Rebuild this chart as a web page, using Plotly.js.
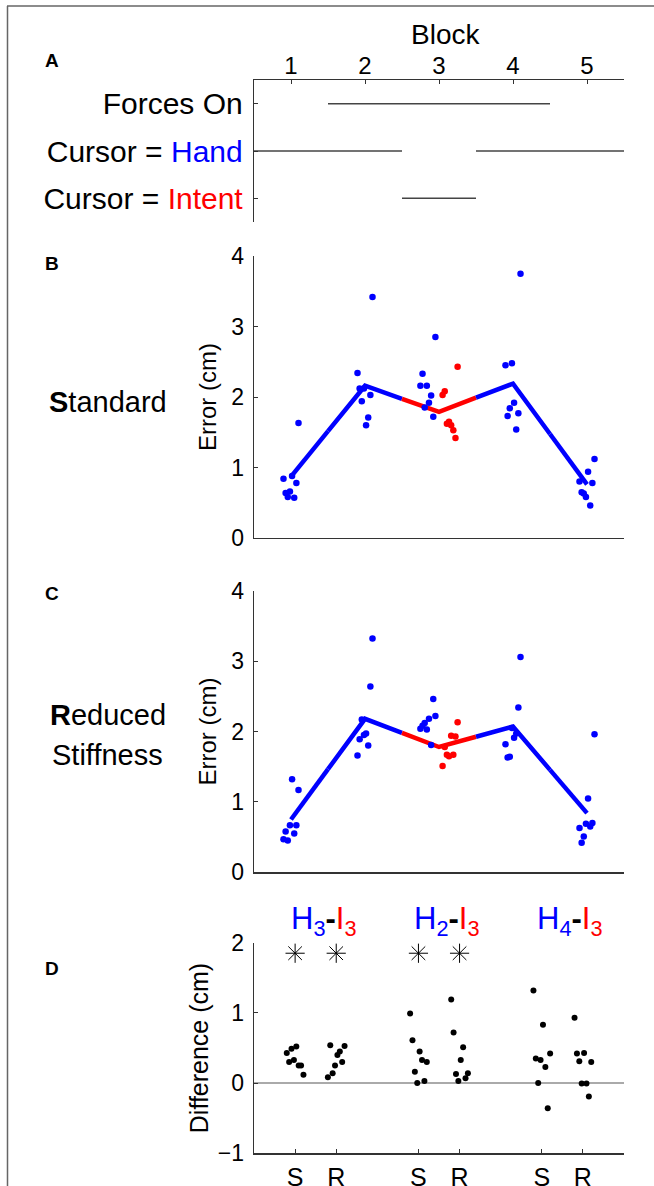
<!DOCTYPE html>
<html>
<head>
<meta charset="utf-8">
<script src="https://cdn.plot.ly/plotly-3.0.1.min.js"></script>
<style>
html,body{margin:0;padding:0;background:#fff;}
#chart{width:654px;height:1186px;}
</style>
</head>
<body>
<div id="chart"></div>
<script>
// ---------------- DATA ----------------
const blocks = [1, 2, 3, 4, 5];
const blockTickLabels = ['1', '2', '3', '4', '5'];
const forcesOn = [false, true, true, true, false];
const cursorMode = ['Hand', 'Hand', 'Intent', 'Hand', 'Hand'];
const conditionRows = ['Forces On', 'Cursor = Hand', 'Cursor = Intent'];

// Standard: hand-error per subject for each block
const stdHandErr = [
  [0.84, 0.64, 0.58, 0.66, 0.88, 0.57, 0.78, 1.63],
  [2.34, 2.12, 1.94, 2.12, 1.60, 1.71, 2.03, 3.42],
  [2.16, 2.33, 1.85, 2.16, 1.92, 2.02, 1.72, 2.85],
  [2.45, 1.73, 1.84, 2.48, 1.92, 1.54, 1.77, 3.75],
  [0.80, 0.65, 0.63, 0.58, 0.94, 0.46, 0.78, 1.12]
];
const stdIntentErr3 = [2.03, 2.08, 1.62, 1.65, 1.60, 1.53, 1.42, 2.43];
const stdMean = [0.87, 2.16, 1.79, 2.19, 0.76];

// Reduced stiffness
const redHandErr = [
  [0.47, 0.58, 0.45, 0.67, 1.32, 0.55, 0.67, 1.17],
  [1.66, 1.89, 2.17, 1.95, 1.97, 1.80, 2.64, 3.32],
  [2.04, 2.08, 2.12, 2.03, 2.18, 1.81, 2.46, 2.22],
  [1.82, 1.63, 1.64, 2.05, 1.91, 1.97, 2.34, 3.06],
  [0.63, 0.42, 0.51, 0.69, 1.05, 0.65, 0.70, 1.96]
];
const redIntentErr3 = [1.51, 1.78, 1.67, 1.65, 1.94, 1.67, 1.93, 2.13];
const redMean = [0.75, 2.18, 1.78, 2.07, 0.84];

// Differences (cm)
const diffLabels = ['S', 'R', 'S', 'R', 'S', 'R'];
const diffHandBlock = [3, 2, 4];
const diffIntentBlock = [3, 3, 3];
const diffValues = [
  [0.43, 0.30, 0.49, 0.33, 0.52, 0.25, 0.25, 0.12],
  [0.085, 0.54, 0.14, 0.25, 0.40, 0.45, 0.30, 0.53],
  [0.99, 0.61, 0.16, 0.00, 0.45, 0.33, 0.03, 0.30],
  [1.19, 0.72, 0.13, 0.03, 0.33, 0.51, 0.07, 0.14],
  [1.32, 0.35, 0.00, 0.33, 0.83, 0.23, -0.36, 0.42],
  [0.93, 0.42, 0.31, -0.005, 0.43, -0.005, -0.19, 0.30]
];
const diffSignificant = [true, true, true, true, false, false];
const sigLevel = 1.85;

// ---------------- LAYOUT HELPERS ----------------
const W = 654, H = 1186;
const px = v => v / W;
const py = v => 1 - v / H;
const BLUE = '#0000ff', RED = '#ff0000';
const FONT = 'Liberation Sans, Arial, Helvetica, sans-serif';
const AX = '#333';

const traces = [];

// Panel A: condition schedule lines
function scheduleTrace(activeArr, row) {
  const xs = [], ys = [];
  activeArr.forEach((on, i) => {
    if (on) {
      xs.push(blocks[i] - 0.5, blocks[i] + 0.5); ys.push(row, row);
      if (!activeArr[i + 1]) { xs.push(null); ys.push(null); }
    }
  });
  return {x: xs, y: ys, xaxis: 'x', yaxis: 'y', mode: 'lines', type: 'scatter',
          line: {color: '#444', width: 1.5}, hoverinfo: 'skip', showlegend: false};
}
traces.push(scheduleTrace(forcesOn, 1));
traces.push(scheduleTrace(cursorMode.map(m => m === 'Hand'), 2));
traces.push(scheduleTrace(cursorMode.map(m => m === 'Intent'), 3));

// Panels B, C
function errorPanel(handErr, intent3, mean, xa, ya) {
  const jit = i => (i - 3.5) * 0.029;
  const hx = [], hy = [];
  handErr.forEach((vals, b) => {
    const centre = cursorMode[b] === 'Intent' ? blocks[b] - 0.15 : blocks[b];
    vals.forEach((v, i) => { hx.push(centre + jit(i)); hy.push(v); });
  });
  const ix = [], iy = [];
  const bI = cursorMode.indexOf('Intent');
  intent3.forEach((v, i) => { ix.push(blocks[bI] + 0.15 + jit(i)); iy.push(v); });

  // mean line, coloured by cursor mode (colour switches at block boundaries)
  const yAt = x => {
    const k = Math.min(Math.max(Math.floor(x) - 1, 0), blocks.length - 2);
    const t = x - blocks[k];
    return mean[k] + (mean[k + 1] - mean[k]) * t;
  };
  for (let b = 0; b < blocks.length; b++) {
    const col = cursorMode[b] === 'Intent' ? RED : BLUE;
    const x0 = b === 0 ? blocks[b] : blocks[b] - 0.5;
    const x1 = b === blocks.length - 1 ? blocks[b] : blocks[b] + 0.5;
    const xs = [x0];
    if (blocks[b] > x0) xs.push(blocks[b]);
    if (x1 > blocks[b]) xs.push(x1);
    traces.push({x: xs, y: xs.map(x => (x === blocks[b] ? mean[b] : yAt(x))), xaxis: xa, yaxis: ya,
      type: 'scatter', mode: 'lines', line: {color: col, width: 4.5}, hoverinfo: 'skip', showlegend: false});
  }
  traces.push({x: hx, y: hy, xaxis: xa, yaxis: ya, type: 'scatter', mode: 'markers',
    marker: {color: BLUE, size: 6.5}, showlegend: false, cliponaxis: false});
  traces.push({x: ix, y: iy, xaxis: xa, yaxis: ya, type: 'scatter', mode: 'markers',
    marker: {color: RED, size: 6.5}, showlegend: false, cliponaxis: false});
}
errorPanel(stdHandErr, stdIntentErr3, stdMean, 'x2', 'y2');
errorPanel(redHandErr, redIntentErr3, redMean, 'x3', 'y3');

// Panel D
const diffPos = [1, 2, 4, 5, 7, 8];
const dx = [], dy = [];
diffValues.forEach((vals, g) => vals.forEach((v, i) => { dx.push(diffPos[g] + (i - 3.5) * 0.058); dy.push(v); }));
traces.push({x: dx, y: dy, xaxis: 'x4', yaxis: 'y4', type: 'scatter', mode: 'markers',
  marker: {color: '#000', size: 6}, showlegend: false, cliponaxis: false});
const sx = [], sy = [];
diffSignificant.forEach((s, g) => { if (s) { sx.push(diffPos[g]); sy.push(sigLevel); } });
traces.push({x: sx, y: sy, xaxis: 'x4', yaxis: 'y4', type: 'scatter', mode: 'markers',
  marker: {symbol: 'asterisk-open', size: 16, color: '#000', line: {color: '#000', width: 1}},
  showlegend: false, cliponaxis: false});

// ---------------- AXES ----------------
const xDom = [px(254), px(624)];
const tickFont = {family: FONT, size: 23, color: '#000'};
const baseX = {domain: xDom, range: [0.5, 5.5], showgrid: false, zeroline: false,
  showline: true, linecolor: AX, linewidth: 1.3, fixedrange: true};
const errY = (dom) => ({domain: dom, range: [0, 4], tickvals: [0, 1, 2, 3, 4], ticks: 'inside', ticklen: 4,
  tickcolor: AX, showline: true, linecolor: AX, linewidth: 1.3, showgrid: false, zeroline: false,
  tickfont: tickFont, ticklabelstandoff: 4,
  title: {text: 'Error (cm)', font: {family: FONT, size: 24, color: '#000'}, standoff: 8}});

const layout = {
  width: W, height: H, margin: {l: 0, r: 0, t: 0, b: 0},
  paper_bgcolor: '#fff', plot_bgcolor: 'rgba(0,0,0,0)', showlegend: false,
  font: {family: FONT, color: '#000'},
  xaxis: Object.assign({}, baseX, {anchor: 'y', side: 'top', tickvals: blocks, ticktext: blockTickLabels,
    ticks: 'inside', ticklen: 4, tickcolor: AX, tickfont: {family: FONT, size: 24, color: '#000'}, ticklabelstandoff: -5}),
  yaxis: {domain: [py(222), py(80)], range: [3.5, 0.5], anchor: 'x', tickvals: [1, 2, 3],
    ticktext: [conditionRows[0],
      'Cursor = <span style="color:' + BLUE + '">' + conditionRows[1].split('= ')[1] + '</span>',
      'Cursor = <span style="color:' + RED + '">' + conditionRows[2].split('= ')[1] + '</span>'],
    ticks: 'inside', ticklen: 4, tickcolor: AX, showline: true, linecolor: AX, linewidth: 1.3,
    showgrid: false, zeroline: false, tickfont: {family: FONT, size: 30, color: '#000'}, ticklabelstandoff: 4,
    fixedrange: true},
  xaxis2: Object.assign({}, baseX, {anchor: 'y2', ticks: '', showticklabels: false}),
  yaxis2: Object.assign(errY([py(538), py(256)]), {anchor: 'x2'}),
  xaxis3: Object.assign({}, baseX, {anchor: 'y3', ticks: '', showticklabels: false}),
  yaxis3: Object.assign(errY([py(872.3), py(590.7)]), {anchor: 'x3'}),
  xaxis4: {domain: xDom, range: [0, 9], anchor: 'y4', tickvals: diffPos, ticktext: diffLabels,
    ticks: 'inside', ticklen: 4, tickcolor: AX, showline: true, linecolor: AX, linewidth: 1.3,
    showgrid: false, zeroline: false, tickfont: {family: FONT, size: 25, color: '#000'}, ticklabelstandoff: 1},
  yaxis4: {domain: [py(1153.3), py(942.7)], range: [-1, 2], anchor: 'x4', tickvals: [-1, 0, 1, 2],
    ticks: 'inside', ticklen: 4, tickcolor: AX, showline: true, linecolor: AX, linewidth: 1.3,
    showgrid: false, zeroline: true, zerolinecolor: '#aaa', zerolinewidth: 1.5,
    tickfont: tickFont, ticklabelstandoff: 4,
    title: {text: 'Difference (cm)', font: {family: FONT, size: 25, color: '#000'}, standoff: 2}},
  shapes: [
    {type: 'line', xref: 'paper', yref: 'paper', x0: px(7), x1: 1.01, y0: py(6), y1: py(6), line: {color: '#666', width: 1.5}},
    {type: 'line', xref: 'paper', yref: 'paper', x0: px(7.5), x1: px(7.5), y0: py(6), y1: -0.01, line: {color: '#666', width: 1.5}}
  ],
  annotations: []
};

const ann = layout.annotations;
const letter = (t, y) => ann.push({text: '<b>' + t + '</b>', xref: 'paper', yref: 'paper', x: px(52), y: py(y),
  showarrow: false, xanchor: 'center', yanchor: 'middle', font: {family: FONT, size: 19, color: '#000'}});
letter('A', 60); letter('B', 263); letter('C', 593); letter('D', 968);
ann.push({text: 'Block', xref: 'paper', yref: 'paper', x: px(446), y: py(34), showarrow: false,
  xanchor: 'center', yanchor: 'middle', font: {family: FONT, size: 28, color: '#000'}});
ann.push({text: '<b>S</b>tandard', xref: 'paper', yref: 'paper', x: px(108), y: py(402), showarrow: false,
  xanchor: 'center', yanchor: 'middle', font: {family: FONT, size: 29, color: '#000'}});
ann.push({text: '<b>R</b>educed', xref: 'paper', yref: 'paper', x: px(107.5), y: py(715), showarrow: false,
  xanchor: 'center', yanchor: 'middle', font: {family: FONT, size: 29, color: '#000'}});
ann.push({text: 'Stiffness', xref: 'paper', yref: 'paper', x: px(107), y: py(755), showarrow: false,
  xanchor: 'center', yanchor: 'middle', font: {family: FONT, size: 29, color: '#000'}});
diffHandBlock.forEach((hb, g) => {
  ann.push({text: '<span style="color:' + BLUE + '">H<sub>' + hb + '</sub></span><b>-</b><span style="color:' + RED + '">I<sub>' + diffIntentBlock[g] + '</sub></span>',
    xref: 'x4', yref: 'paper', x: (diffPos[2 * g] + diffPos[2 * g + 1]) / 2 + 0.18, y: py(921), showarrow: false,
    xanchor: 'center', yanchor: 'middle', font: {family: FONT, size: 31, color: '#000'}});
});

Plotly.newPlot('chart', traces, layout, {staticPlot: true, displayModeBar: false});
</script>
</body>
</html>
